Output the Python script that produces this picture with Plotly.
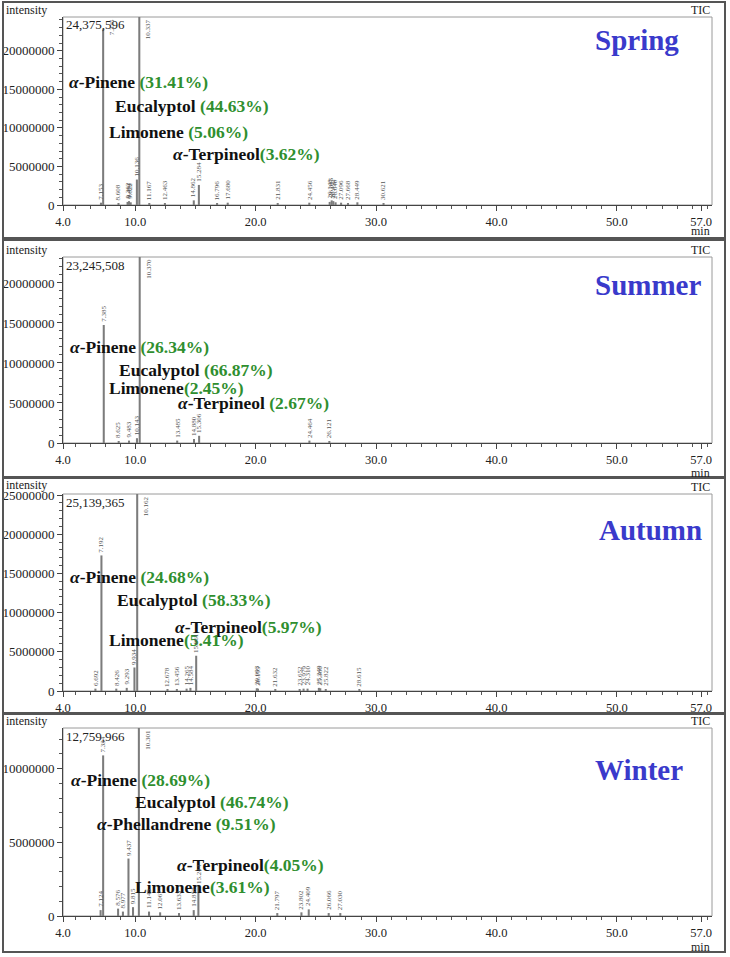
import plotly.graph_objects as go

W, H = 730, 957

# ---------------- data ----------------
seasons = ["Spring", "Summer", "Autumn", "Winter"]
tic_max = [24375596, 23245508, 25139365, 12759966]

spring_rt = [7.153, 7.335, 8.608, 9.362, 9.481, 9.622, 10.136, 10.337, 11.167, 12.463,
             14.862, 15.284, 16.796, 17.680, 21.831, 24.456, 26.148, 26.315, 26.452,
             26.640, 27.096, 27.668, 28.449, 30.621]
spring_int = [300000, 22800000, 250000, 400000, 500000, 350000, 3300000, 24375596, 200000, 250000,
              600000, 2600000, 200000, 300000, 250000, 300000, 400000, 600000, 500000,
              350000, 300000, 250000, 350000, 200000]

summer_rt = [7.385, 8.625, 9.483, 10.143, 10.370, 13.485, 14.880, 15.306, 24.464, 26.121]
summer_int = [14750000, 200000, 300000, 600000, 23245508, 300000, 500000, 900000, 300000, 250000]

autumn_rt = [6.692, 7.192, 8.426, 9.293, 9.934, 10.162, 12.678, 13.456, 14.265, 14.584,
             15.061, 20.093, 20.195, 21.632, 23.652, 23.979, 24.310, 25.249, 25.366,
             25.822, 28.615]
autumn_int = [300000, 17300000, 300000, 400000, 3000000, 25139365, 200000, 250000, 300000, 400000,
              4500000, 350000, 300000, 200000, 250000, 300000, 300000, 400000, 350000,
              250000, 200000]

winter_rt = [7.124, 7.334, 8.576, 8.977, 9.437, 9.815, 10.301, 11.145, 12.067, 13.633,
             14.857, 15.244, 21.797, 23.802, 24.409, 26.066, 27.030]
winter_int = [400000, 10900000, 500000, 300000, 3900000, 600000, 12759966, 300000, 250000, 200000,
              400000, 2000000, 200000, 250000, 450000, 200000, 200000]

spring_names = ["α-Pinene", "Eucalyptol", "Limonene", "α-Terpineol"]
spring_pct = ["31.41%", "44.63%", "5.06%", "3.62%"]
summer_names = ["α-Pinene", "Eucalyptol", "Limonene", "α-Terpineol"]
summer_pct = ["26.34%", "66.87%", "2.45%", "2.67%"]
autumn_names = ["α-Pinene", "Eucalyptol", "α-Terpineol", "Limonene"]
autumn_pct = ["24.68%", "58.33%", "5.97%", "5.41%"]
winter_names = ["α-Pinene", "Eucalyptol", "α-Phellandrene", "α-Terpineol", "Limonene"]
winter_pct = ["28.69%", "46.74%", "9.51%", "4.05%", "3.61%"]

x_tickvals = [4.0, 10.0, 20.0, 30.0, 40.0, 50.0, 57.0]
x_ticktext = ["4.0", "10.0", "20.0", "30.0", "40.0", "50.0", "57.0"]
y_ticks_big = [0, 5000000, 10000000, 15000000, 20000000]
y_ticks_autumn = [0, 5000000, 10000000, 15000000, 20000000, 25000000]
y_ticks_winter = [0, 5000000, 10000000]

rts = [spring_rt, summer_rt, autumn_rt, winter_rt]
ints = [spring_int, summer_int, autumn_int, winter_int]
names = [spring_names, summer_names, autumn_names, winter_names]
pcts = [spring_pct, summer_pct, autumn_pct, winter_pct]
yticks = [y_ticks_big, y_ticks_big, y_ticks_autumn, y_ticks_winter]

# ---------------- layout (pixel geometry) ----------------
def px(x):
    return x / W

def py(y):
    return 1 - y / H

plot_tb = [(17, 205), (257, 443), (494, 691), (728, 916)]
panel_tb = [(2, 238), (240, 477), (478, 713), (714, 952)]
min_off = [26, 30, None, 31]          # "min" unit label offset below axis (hidden by border in Autumn)
intensity_off = [7, 7, 9, 7]
title_pos = [(593, 40), (593, 285), (597, 530), (593, 770)]
label_pos = [
    [(67, 82, " "), (113, 106, " "), (107, 132, " "), (171, 154, "")],
    [(68, 347, " "), (117, 370, " "), (107, 388, ""), (176, 403, " ")],
    [(68, 577, " "), (115, 600, " "), (173, 627, ""), (107, 640, "")],
    [(69, 780, " "), (133, 802, " "), (95, 824, " "), (175, 865, ""), (133, 887, "")],
]

SERIF = "Liberation Serif"
GREEN = "#2f8f2f"
BLUE = "#3a3acb"
X_LEFT, X_RIGHT = 63, 712

fig = go.Figure()
annotations = []
shapes = []

for i in range(4):
    k = "" if i == 0 else str(i + 1)
    xa, ya = "x" + k, "y" + k
    top, bot = plot_tb[i]
    fig.add_trace(go.Bar(x=rts[i], y=ints[i], xaxis=xa, yaxis=ya, width=0.17,
                         marker=dict(color="#7c7c7c", line=dict(width=0)),
                         showlegend=False, hoverinfo="x+y"))
    fig.layout["xaxis" + k] = dict(
        domain=[px(X_LEFT), px(X_RIGHT)], range=[4.0, 57.9], anchor=ya, automargin=False,
        tickmode="array", tickvals=x_tickvals, ticktext=x_ticktext,
        ticks="outside", ticklen=5, tickcolor="#444", showline=True, linecolor="#444",
        linewidth=1, showgrid=False, zeroline=False, fixedrange=True,
        tickfont=dict(family=SERIF, size=12.5, color="#222"),
        minor=dict(tickmode="linear", tick0=0, dtick=1.25, ticks="outside", ticklen=3,
                   tickcolor="#555", showgrid=False))
    fig.layout["yaxis" + k] = dict(
        domain=[py(bot), py(top)], range=[0, tic_max[i]], anchor=xa, automargin=False,
        tickmode="array", tickvals=yticks[i], tickformat="d",
        ticks="outside", ticklen=5, tickcolor="#444", showline=True, linecolor="#444",
        linewidth=1, showgrid=False, zeroline=False, fixedrange=True,
        tickfont=dict(family=SERIF, size=13, color="#222"),
        minor=dict(tickmode="linear", tick0=0, dtick=1000000, ticks="outside", ticklen=3,
                   tickcolor="#555", showgrid=False))
    # inner frame
    shapes.append(dict(type="rect", xref=xa + " domain", yref=ya + " domain",
                       x0=0, x1=1, y0=0, y1=1, line=dict(color="#9a9a9a", width=1), layer="below"))
    # outer panel border
    pt, pb = panel_tb[i]
    shapes.append(dict(type="rect", xref="paper", yref="paper", x0=px(3), x1=px(725),
                       y0=py(pb), y1=py(pt), line=dict(color="#555", width=2)))
    # texts around plot
    annotations.append(dict(text="intensity", xref="paper", yref="paper", x=px(4),
                            y=py(top - intensity_off[i]),
                            xanchor="left", yanchor="middle", showarrow=False,
                            font=dict(family=SERIF, size=12, color="#222")))
    annotations.append(dict(text="TIC", xref="paper", yref="paper", x=px(X_RIGHT), y=py(top - 7),
                            xanchor="right", yanchor="middle", showarrow=False,
                            font=dict(family=SERIF, size=12, color="#222")))
    if min_off[i] is not None:
        annotations.append(dict(text="min", xref="paper", yref="paper", x=px(X_RIGHT),
                                y=py(bot + min_off[i]), xanchor="right", yanchor="middle",
                                showarrow=False, font=dict(family=SERIF, size=12, color="#222")))
    annotations.append(dict(text=f"{tic_max[i]:,}", xref="paper", yref="paper", x=px(X_LEFT + 1),
                            y=py(top + 8), xanchor="left", yanchor="middle", showarrow=False,
                            font=dict(family=SERIF, size=13, color="#222")))
    tx, ty = title_pos[i]
    annotations.append(dict(text=f"<b>{seasons[i]}</b>", xref="paper", yref="paper", x=px(tx),
                            y=py(ty), xanchor="left", yanchor="middle", showarrow=False,
                            font=dict(family=SERIF, size=29, color=BLUE)))
    # compound labels
    for name, pct, (lx, ly, sep) in zip(names[i], pcts[i], label_pos[i]):
        nm = name.replace("α-", "<i>α</i>-")
        txt = f"<b>{nm}</b>{sep}<b><span style='color:{GREEN}'>({pct})</span></b>"
        annotations.append(dict(text=txt, xref="paper", yref="paper", x=px(lx), y=py(ly),
                                xanchor="left", yanchor="middle", showarrow=False,
                                font=dict(family=SERIF, size=17.5, color="#111")))
    # retention-time peak labels
    for rt, h in zip(rts[i], ints[i]):
        if h > 0.9 * tic_max[i]:
            annotations.append(dict(text=f"{rt:.3f}", xref=xa, yref=ya, x=rt, y=tic_max[i],
                                    textangle=-90, xanchor="left", yanchor="top", xshift=3,
                                    showarrow=False, font=dict(family=SERIF, size=7, color="#555")))
        else:
            annotations.append(dict(text=f"{rt:.3f}", xref=xa, yref=ya, x=rt, y=h,
                                    textangle=-90, xanchor="center", yanchor="bottom", yshift=1,
                                    showarrow=False, font=dict(family=SERIF, size=7, color="#555")))

fig.update_layout(width=W, height=H,
                  margin=dict(l=0, r=0, t=0, b=0, pad=0, autoexpand=False),
                  paper_bgcolor="white", plot_bgcolor="white", barmode="overlay",
                  annotations=annotations, shapes=shapes, showlegend=False)

fig.write_html("out.html", config={"displayModeBar": False},
               post_script="document.body.style.margin='0';document.body.style.overflow='hidden';")
